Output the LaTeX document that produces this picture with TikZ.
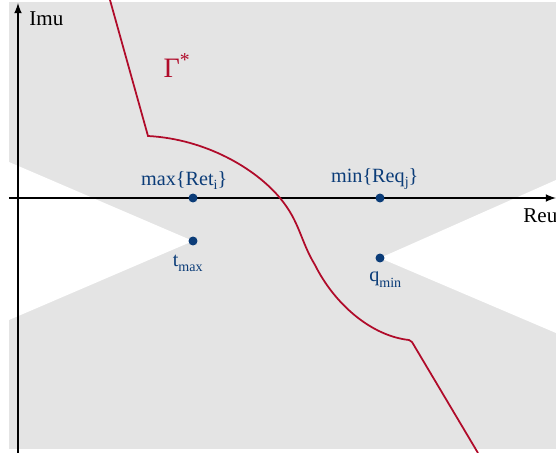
\documentclass[tikz,border=0pt]{standalone}
\usepackage{fontspec}
\setmainfont{Liberation Serif}
\usepackage{tikz}
\usetikzlibrary{positioning,arrows}
\definecolor{zoneg}{HTML}{E4E4E4}
\definecolor{ptblue}{HTML}{0B3C78}
\definecolor{curvered}{HTML}{B00B2A}

\begin{document}
\begin{tikzpicture}[x=0.02cm,y=-0.02cm,
		pt/.style={
			circle,
			fill=ptblue,
			inner sep=0pt,
			minimum size=0.18cm
		},
		lab/.style={
			text=ptblue,
			inner sep=1pt,
			font=\fontsize{11.5}{13}\selectfont
		},
		axtxt/.style={
			anchor=north west,
			inner sep=0pt,
			font=\fontsize{12}{14}\selectfont
		},
		axis/.style={
			draw,
			line width=1pt,
			-latex
		},
		node distance=2pt
		]
		
		\useasboundingbox (0,0) rectangle (556,453);
		\fill[zoneg] (9,2) rectangle (556,449);
		\fill[white] (9,162) -- (193,241) -- (9,320) -- cycle;
		\fill[white] (556,180) -- (380,258) -- (556,333) -- cycle;
		
		\coordinate (xs) at (9,198);
		\coordinate (xe) at (556,198);
		\coordinate (ys) at (18,453);
		\coordinate (ye) at (18,3);
		
		\draw[axis] (xs) -- (xe);
		\draw[axis] (ys) -- (ye);
		
		\node[axtxt] at (29,11)  
		(imu) {Imu};
		\node[axtxt] at (523,208)  
		(reu) {Reu};
		
		\draw[curvered, line width=1pt] (110,0) -- (148,136)
		.. controls (205,139) and (255,168) .. (280,198)
		.. controls (300,222) and (300,240) .. (315,265)
		.. controls (335,305) and (372,336) .. (409,340)
		-- (412,342) -- (478,453);
		
		\node[text=curvered, font=\fontsize{16}{18}\selectfont] at (177,66)  
		(gam) {Γ\textsuperscript{*}};
		
		\node[pt] at (193,198) (rmax) {};
		\node[pt] at (380,198) (rmin) {};
		\node[pt] at (193,241) (tmax) {};
		\node[pt] at (380,258) (qmin) {};
		
		\node[lab, above=1pt of rmax, xshift=-5pt] (rmaxlab) {max\{Ret\raisebox{-0.4ex}{\footnotesize i}\}};
		\node[lab, above=1pt of rmin, xshift=-3pt] (rminlab) {min\{Req\raisebox{-0.4ex}{\footnotesize j}\}};
		\node[lab, below=4pt of tmax, xshift=-3pt] (tmaxlab) {t\raisebox{-0.6ex}{\footnotesize max}};
		\node[lab, below=4pt of qmin, xshift=3pt] (qminlab) {q\raisebox{-0.6ex}{\footnotesize min}};
		
		\end{tikzpicture}
\end{document}
